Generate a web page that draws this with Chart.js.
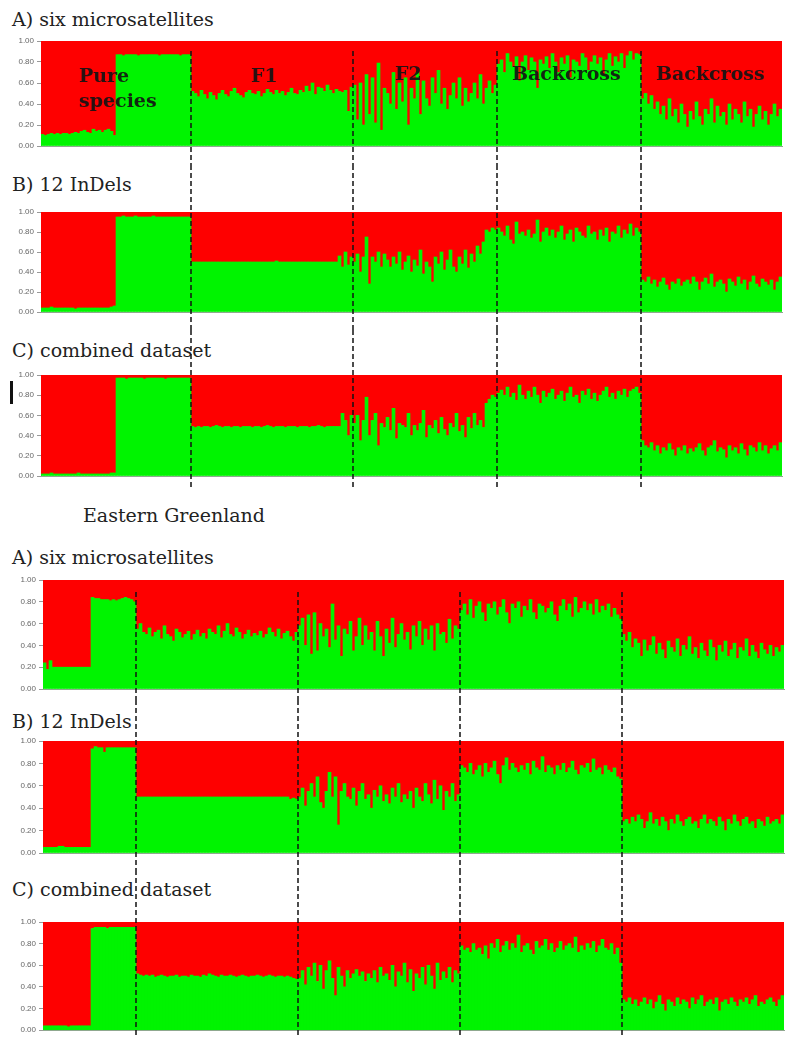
<!DOCTYPE html>
<html><head><meta charset="utf-8">
<script src="https://cdn.jsdelivr.net/npm/chart.js@4.4.1/dist/chart.umd.min.js"></script>
<style>
html,body{margin:0;padding:0;background:#fff;}
body{width:785px;height:1038px;position:relative;overflow:hidden;}
.t{position:absolute;font-family:"DejaVu Serif",serif;font-size:19px;line-height:19px;color:#222;white-space:nowrap;z-index:1;}
canvas{position:absolute;left:0;z-index:2;}
.lab{position:absolute;font-family:"DejaVu Serif",serif;font-weight:bold;font-size:19px;line-height:19px;color:#141414;opacity:0.92;z-index:3;white-space:nowrap;}
.cur{position:absolute;left:10px;top:381px;width:3px;height:23px;background:#111;z-index:3;}
</style></head>
<body>
<div class="t" style="left:12px;top:10px">A) six microsatellites</div>
<div class="t" style="left:12px;top:175px">B) 12 InDels</div>
<div class="t" style="left:12px;top:341px">C) combined dataset</div>
<div class="t" style="left:83px;top:506px">Eastern Greenland</div>
<div class="t" style="left:12px;top:548px">A) six microsatellites</div>
<div class="t" style="left:12px;top:712px">B) 12 InDels</div>
<div class="t" style="left:12px;top:880px">C) combined dataset</div>
<div class="cur"></div>

<div class="lab" style="left:79px;top:66px">Pure</div>
<div class="lab" style="left:79px;top:91px">species</div>
<div class="lab" style="left:251px;top:66px">F1</div>
<div class="lab" style="left:395px;top:64px">F2</div>
<div class="lab" style="left:512px;top:64px">Backcross</div>
<div class="lab" style="left:656px;top:64px">Backcross</div>

<canvas id="tA" width="785" height="133" style="top:32px"></canvas>
<canvas id="tB" width="785" height="165" style="top:165px"></canvas>
<canvas id="tC" width="785" height="158" style="top:330px"></canvas>
<canvas id="bA" width="785" height="130" style="top:570px"></canvas>
<canvas id="bB" width="785" height="170" style="top:700px"></canvas>
<canvas id="bC" width="785" height="168" style="top:870px"></canvas>

<script>
// Group order in every panel: pure species 1, pure species 2, F1, F2, backcross 1, backcross 2
const groupNames = ['Pure species', 'Pure species', 'F1', 'F2', 'Backcross', 'Backcross'];
const yTickLabels = ['0.00', '0.20', '0.40', '0.60', '0.80', '1.00'];
// Green membership (%) per individual; red = remainder

// ---- upper figure ----
const topA = [
  [11,10,11,12,11,12,11,12,12,11, 12,13,12,14,15,13,12,16,14,15, 13,15,16,14,10],
  [87,87,86,87,87,87,87,86,87,87, 87,87,87,87,86,87,87,87,87,87, 87,86,87,87,87],
  [52,50,47,53,49,45,51,48,44,50, 53,49,47,52,55,50,48,46,51,53, 50,49,52,47,50,54,51,49,53,50,
   52,48,51,55,50,49,53,51,57,52, 60,49,56,55,52,58,53,50,54,52, 51,53,33,56],
  [58,25,60,20,68,30,65,22,79,15, 55,50,40,70,35,60,42,65,20,55, 45,70,30,62,45,38,65,50,72,40,
   55,35,48,60,45,65,38,55,42,50, 60,45,68,40,55,62,50,58],
  [78,82,70,88,80,75,85,62,80,86, 72,84,80,55,82,78,85,74,88,80, 70,84,78,86,65,82,80,76,88,84,
   72,80,86,78,84,68,82,88,76,85, 80,88,74,86,90,82,88,87],
  [45,50,40,48,35,42,30,38,25,45, 28,35,22,40,30,18,33,25,42,28, 20,35,30,45,22,38,28,32,20,40,
   25,35,30,22,42,28,35,18,30,38, 25,33,20,30,40,28,35]
];
const topB = [
  [4,4,4,5,4,4,4,4,4,4, 4,3,4,4,4,4,4,4,4,4, 4,4,4,5,6],
  [95,95,96,95,95,95,96,95,95,95, 95,95,96,95,95,95,95,95,95,95, 95,95,95,95,95],
  [50,50,50,50,50,50,50,50,50,50, 50,50,50,50,50,50,50,50,50,50, 50,50,50,50,50,50,50,50,51,50,
   50,50,50,50,50,50,50,50,50,50, 50,50,50,50,50,50,50,50,50,56, 45,60,47,55],
  [50,58,40,55,75,28,55,50,60,45, 58,52,45,55,48,60,42,50,56,40, 52,46,62,38,50,45,30,55,48,60,
   42,52,62,45,40,55,48,62,44,58, 50,66,58,70,82,80,84,82],
  [84,80,76,86,72,68,90,78,80,76, 82,74,78,92,70,80,84,76,82,74, 80,86,72,78,82,70,84,80,76,74,
   86,78,80,72,82,76,84,70,80,78, 86,74,82,78,88,76,84,80],
  [32,30,35,28,32,25,30,34,27,22, 30,28,33,26,30,32,28,35,30,22, 30,34,28,38,25,30,32,28,20,33,
   30,26,35,28,32,22,30,36,28,25, 33,30,27,32,22,30,35]
];
const topC = [
  [2,2,2,3,2,2,2,2,2,2, 2,2,3,2,2,2,2,2,2,2, 2,2,2,3,3],
  [97,97,97,96,97,97,97,97,97,96, 97,97,97,97,97,97,96,97,97,97, 97,97,97,97,97],
  [49,48,49,48,49,49,48,49,50,49, 48,49,49,48,49,49,48,49,49,49, 48,49,49,48,49,50,49,48,49,49,
   49,48,49,49,49,48,49,49,49,48, 49,49,50,49,48,49,49,49,49,49, 62,55,40,60],
  [52,60,35,55,78,40,55,62,30,52, 48,58,45,67,37,52,50,48,62,40, 50,45,52,65,38,50,47,55,42,58,
   46,40,52,48,62,44,50,38,58,47, 62,50,55,48,72,76,80,78],
  [82,85,80,88,78,82,75,90,80,76, 84,78,88,80,72,84,78,82,86,76, 80,84,74,82,88,78,80,72,84,80,
   86,76,82,74,80,84,88,78,82,76, 84,80,86,78,84,86,88,82],
  [35,30,28,33,25,30,22,28,25,32, 26,20,28,25,30,22,27,24,28,32, 25,20,28,30,35,24,28,26,18,30,
   25,28,22,32,26,20,30,28,24,33, 25,30,22,27,30,25,33]
];

// ---- Eastern Greenland ----
const botA = [
  [24,18,26,20,20,20,20,20,20,20, 20,20,20,20,20,20],
  [84,83,83,82,82,82,81,82,81,82, 83,84,83,82,80],
  [55,60,52,50,56,48,52,54,46,58, 50,48,44,55,52,47,50,53,45,50, 54,48,51,46,55,52,50,58,47,53,
   60,50,48,56,52,46,50,54,48,51, 49,53,47,50,56,52,48,55,46,51, 53,48,44,52],
  [58,65,40,68,32,70,35,60,48,55, 38,78,45,58,30,55,50,62,35,48, 65,40,58,45,52,35,62,48,30,55,
   42,65,38,50,60,45,52,36,58,48, 62,40,55,45,58,35,60,50,52,42, 64,46,58,55],
  [72,78,68,82,65,76,80,70,62,78, 74,80,68,75,82,70,60,78,74,80, 66,76,72,82,70,64,78,76,70,74,
   80,68,62,76,82,72,78,66,84,70, 74,80,72,78,68,82,70,76,72,78, 66,74,68,64],
  [50,44,52,38,46,42,30,45,35,40, 48,32,42,36,28,44,38,34,46,30, 40,36,48,32,38,28,42,35,30,45,
   38,26,40,34,44,30,36,42,28,38, 35,46,30,40,34,28,42,36,32,40, 30,38,34,40]
];
const botB = [
  [5,5,5,5,5,6,6,5,5,5, 5,5,5,5,5,5],
  [93,95,94,94,90,94,94,94,94,94, 94,94,94,94,94],
  [50,50,50,50,50,50,50,50,50,50, 50,50,50,50,50,50,50,50,50,50, 50,50,50,50,50,50,50,50,50,50,
   50,50,50,50,50,50,50,50,50,50, 50,50,50,50,50,50,50,50,50,50, 50,48,49,48],
  [50,58,42,55,62,50,68,45,40,55, 72,50,68,25,55,62,50,48,58,42, 55,62,48,52,40,56,50,60,46,52,
   44,58,50,62,45,52,48,55,40,58, 50,46,62,52,44,65,48,60,38,55, 50,62,46,52],
  [78,76,72,80,70,74,78,68,80,72, 76,82,70,62,78,85,74,80,76,72, 78,74,80,70,82,76,74,86,72,78,
   76,70,78,74,80,72,76,82,74,70, 78,76,80,72,84,74,76,70,78,74, 72,76,68,66],
  [28,30,26,32,28,34,30,22,28,36, 26,30,24,32,28,20,30,26,34,28, 24,30,32,26,28,22,30,34,26,30,
   28,24,32,28,20,30,26,34,28,24, 30,32,26,28,22,30,28,24,32,26, 28,30,26,34]
];
const botC = [
  [4,4,4,4,4,4,4,4,3,4, 4,4,4,4,4,4],
  [94,95,95,95,95,94,95,95,95,95, 95,95,95,95,95],
  [52,51,50,51,50,51,49,50,51,50, 49,50,50,51,49,50,50,49,51,50, 50,49,51,50,52,51,50,49,51,50,
   50,51,50,49,50,51,50,49,50,50, 51,50,49,50,51,50,49,50,50,49, 50,49,48,47],
  [48,55,42,58,50,62,45,60,38,55, 64,48,32,58,50,40,55,48,52,56, 50,54,45,52,48,55,44,58,50,52,
   46,60,40,54,50,62,44,56,36,52, 48,58,42,60,50,38,62,46,54,48, 58,44,55,52],
  [78,74,76,72,80,74,76,70,78,66, 80,76,84,72,78,82,74,80,76,88, 72,78,80,74,70,82,76,78,84,74,
   80,72,76,82,74,78,80,76,86,72, 78,74,80,76,82,72,78,84,76,74, 80,70,76,62],
  [28,26,30,24,28,22,26,30,24,28, 20,26,32,24,18,28,26,22,30,24, 28,26,20,30,24,28,32,22,26,28,
   24,30,18,26,28,24,30,26,22,28, 26,30,24,28,32,22,26,24,28,30, 26,22,28,32]
];

const GREEN = '#00f400';
const RED = '#fe0000';

const dividerPlugin = {
  id: 'divider',
  afterDraw(chart, args, opts) {
    const xs = chart.scales.x;
    const ctx = chart.ctx;
    ctx.save();
    ctx.strokeStyle = '#121212';
    ctx.lineWidth = 1.5;
    ctx.setLineDash([5, 3]);
    let cum = 0;
    opts.sizes.forEach((n, gi) => {
      cum += n;
      if (gi >= 1 && gi < opts.sizes.length - 1) {
        const x = Math.round((xs.getPixelForValue(cum - 1) + xs.getPixelForValue(cum)) / 2);
        ctx.beginPath();
        ctx.moveTo(x, opts.from);
        ctx.lineTo(x, opts.to);
        ctx.stroke();
      }
    });
    ctx.restore();
  }
};

function makePanel(id, groups, cfg) {
  const green = groups.flat();
  const red = green.map(v => 100 - v);
  const labels = green.map((_, i) => String(i + 1));
  const sizes = groups.map(g => g.length);
  new Chart(document.getElementById(id), {
    type: 'bar',
    data: {
      labels,
      datasets: [
        { label: 'green', data: green, backgroundColor: GREEN, borderWidth: 0 },
        { label: 'red', data: red, backgroundColor: RED, borderWidth: 0 }
      ]
    },
    options: {
      responsive: false,
      animation: false,
      events: [],
      layout: { padding: { left: 0, right: cfg.right, top: cfg.top, bottom: cfg.bottom } },
      datasets: { bar: { categoryPercentage: 1, barPercentage: 1 } },
      plugins: {
        legend: { display: false },
        tooltip: { enabled: false },
        divider: { sizes, from: cfg.from, to: cfg.to }
      },
      scales: {
        x: {
          stacked: true, display: true,
          ticks: { display: false },
          grid: { display: false, drawTicks: false },
          border: { display: true, color: '#8fa88f', width: 1, z: 1 }
        },
        y: {
          stacked: true, min: 0, max: 100,
          afterFit(scale) { scale.width = cfg.left; },
          ticks: {
            stepSize: 20,
            padding: 3,
            color: '#666',
            font: { family: 'Liberation Sans', size: 8 },
            callback: (v, i) => yTickLabels[i]
          },
          grid: { drawOnChartArea: false, drawTicks: true, tickLength: 4, tickColor: '#999', color: '#999' },
          border: { display: true, color: '#999', width: 1 }
        }
      }
    },
    plugins: [dividerPlugin]
  });
}

makePanel('tA', topA, { left: 41, right: 3, top: 9,  bottom: 19, from: 19, to: 133 });
makePanel('tB', topB, { left: 41, right: 3, top: 47, bottom: 18, from: 0,  to: 165 });
makePanel('tC', topC, { left: 41, right: 3, top: 45, bottom: 12, from: 0,  to: 157 });
makePanel('bA', botA, { left: 43, right: 1, top: 10, bottom: 11, from: 22, to: 130 });
makePanel('bB', botB, { left: 43, right: 1, top: 41, bottom: 17, from: 0,  to: 170 });
makePanel('bC', botC, { left: 43, right: 1, top: 52, bottom: 5,  from: 0,  to: 166 });
</script>
</body></html>
